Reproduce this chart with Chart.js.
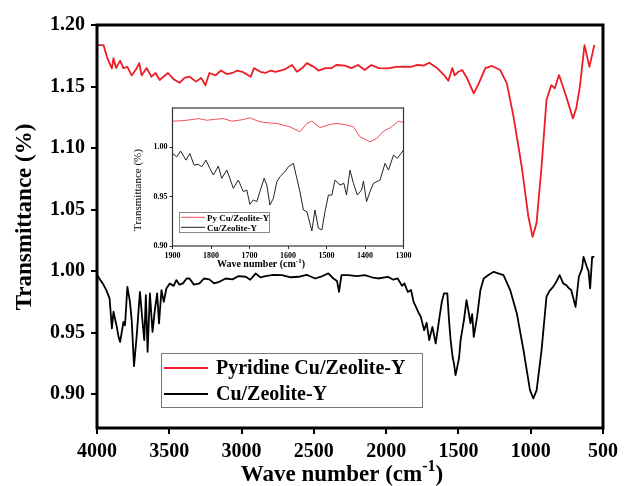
<!DOCTYPE html>
<html>
<head>
<meta charset="utf-8">
<script src="https://cdn.jsdelivr.net/npm/chart.js@4.4.0/dist/chart.umd.min.js"></script>
<style>
  body { margin: 0; background: #fff; }
  #wrap { position: relative; width: 624px; height: 486px; }
  #insetChart { position: absolute; left: 120px; top: 100px; }
</style>
</head>
<body>
<div id="wrap">
  <canvas id="mainChart" width="624" height="486"></canvas>
  <canvas id="insetChart" width="300" height="172"></canvas>
</div>
<script>
// ---- data ----
var seriesNames = ['Pyridine Cu/Zeolite-Y', 'Cu/Zeolite-Y'];
var insetNames = ['Py Cu/Zeolite-Y', 'Cu/Zeolite-Y'];

var xTicks = [4000, 3500, 3000, 2500, 2000, 1500, 1000, 500];
var yTicks = [0.90, 0.95, 1.00, 1.05, 1.10, 1.15, 1.20];
var insetXTicks = [1900, 1800, 1700, 1600, 1500, 1400, 1300];
var insetYTicks = [0.90, 0.95, 1.00];

// pyridine-adsorbed sample, full range
var pyWave = [4000, 3955, 3931, 3910, 3897, 3886, 3868, 3840, 3817, 3790, 3760, 3730, 3708, 3691, 3657, 3623, 3595, 3566, 3540, 3509, 3470, 3429, 3395, 3360, 3314, 3280, 3250, 3223, 3180, 3143, 3100, 3063, 3030, 2994, 2937, 2914, 2870, 2834, 2800, 2765, 2700, 2651, 2617, 2580, 2549, 2500, 2468, 2420, 2377, 2345, 2285, 2240, 2194, 2148, 2103, 2050, 1988, 1930, 1874, 1830, 1782, 1740, 1702, 1645, 1599, 1570, 1542, 1526, 1500, 1474, 1440, 1394, 1359, 1314, 1268, 1211, 1165, 1119, 1062, 1016, 987, 960, 925, 891, 857, 834, 804, 754, 708, 685, 660, 628, 594, 560];
var pyT = [1.1837, 1.1837, 1.174, 1.168, 1.1648, 1.173, 1.165, 1.171, 1.165, 1.166, 1.159, 1.164, 1.169, 1.159, 1.165, 1.158, 1.161, 1.1553, 1.158, 1.161, 1.156, 1.153, 1.157, 1.158, 1.154, 1.157, 1.151, 1.161, 1.159, 1.163, 1.160, 1.161, 1.163, 1.162, 1.158, 1.165, 1.162, 1.161, 1.163, 1.162, 1.164, 1.1675, 1.162, 1.165, 1.169, 1.166, 1.163, 1.165, 1.165, 1.1675, 1.167, 1.165, 1.1675, 1.1634, 1.1675, 1.165, 1.1648, 1.166, 1.1661, 1.166, 1.1675, 1.167, 1.1693, 1.1648, 1.1593, 1.1547, 1.165, 1.159, 1.162, 1.1634, 1.1567, 1.1444, 1.1526, 1.165, 1.1667, 1.1634, 1.1526, 1.1255, 1.0848, 1.0441, 1.0279, 1.0388, 1.0848, 1.139, 1.1512, 1.1485, 1.1593, 1.1417, 1.1241, 1.1323, 1.150, 1.1837, 1.166, 1.1837];

// parent Cu/Zeolite-Y, full range
var cuWave = [4000, 3977, 3960, 3936, 3913, 3897, 3886, 3863, 3851, 3840, 3817, 3806, 3790, 3772, 3760, 3744, 3726, 3703, 3684, 3673, 3662, 3650, 3634, 3616, 3600, 3584, 3571, 3554, 3538, 3520, 3497, 3470, 3451, 3430, 3406, 3380, 3360, 3330, 3291, 3260, 3223, 3190, 3154, 3110, 3063, 3020, 2971, 2940, 2903, 2870, 2834, 2780, 2720, 2660, 2606, 2550, 2491, 2440, 2400, 2365, 2340, 2326, 2309, 2263, 2200, 2148, 2100, 2057, 1988, 1950, 1920, 1890, 1874, 1850, 1828, 1810, 1794, 1775, 1760, 1737, 1720, 1702, 1690, 1680, 1657, 1634, 1615, 1600, 1577, 1565, 1554, 1540, 1531, 1520, 1508, 1495, 1485, 1462, 1444, 1428, 1417, 1405, 1394, 1371, 1348, 1325, 1290, 1256, 1220, 1188, 1142, 1096, 1050, 1005, 982, 959, 925, 891, 870, 845, 820, 800, 775, 754, 735, 720, 690, 667, 645, 635, 612, 600, 589, 575, 560];
var cuT = [0.997, 0.9927, 0.99, 0.9846, 0.9778, 0.9534, 0.967, 0.9547, 0.9466, 0.9425, 0.9588, 0.956, 0.9872, 0.975, 0.96, 0.9228, 0.9466, 0.9832, 0.9575, 0.9439, 0.9805, 0.9344, 0.9819, 0.9506, 0.9683, 0.9819, 0.9575, 0.9846, 0.975, 0.9859, 0.99, 0.988, 0.9927, 0.989, 0.99, 0.994, 0.994, 0.989, 0.99, 0.994, 0.9933, 0.99, 0.9913, 0.994, 0.9933, 0.996, 0.9954, 0.993, 0.998, 0.995, 0.996, 0.997, 0.9967, 0.995, 0.9954, 0.997, 0.994, 0.996, 0.9981, 0.994, 0.992, 0.9832, 0.9967, 0.9967, 0.996, 0.9967, 0.995, 0.994, 0.9954, 0.993, 0.994, 0.988, 0.99, 0.983, 0.9846, 0.975, 0.971, 0.966, 0.9628, 0.952, 0.958, 0.9439, 0.95, 0.9547, 0.9412, 0.9602, 0.975, 0.9819, 0.9819, 0.96, 0.9439, 0.93, 0.925, 0.9155, 0.9222, 0.93, 0.9439, 0.9602, 0.9764, 0.9656, 0.9575, 0.965, 0.9466, 0.9628, 0.9846, 0.994, 0.997, 0.9994, 0.998, 0.9967, 0.9846, 0.9656, 0.9358, 0.9033, 0.8965, 0.9033, 0.9358, 0.9791, 0.984, 0.9872, 0.992, 0.9967, 0.99, 0.9886, 0.986, 0.9846, 0.971, 0.9954, 1.002, 1.0116, 1.0035, 1.0, 0.986, 1.0116, 1.0116];

// inset: 1900-1300 cm-1
var insetPyWave = [1900, 1880, 1863, 1845, 1833, 1811, 1790, 1768, 1746, 1720, 1699, 1680, 1664, 1629, 1595, 1569, 1551, 1538, 1517, 1491, 1473, 1450, 1430, 1413, 1387, 1370, 1352, 1335, 1313, 1300];
var insetPyT = [1.0266, 1.027, 1.0276, 1.0285, 1.0293, 1.0276, 1.0285, 1.0293, 1.0266, 1.028, 1.030, 1.027, 1.0253, 1.0243, 1.0209, 1.0158, 1.0243, 1.0266, 1.0202, 1.0233, 1.0243, 1.023, 1.0209, 1.0107, 1.0057, 1.0091, 1.0165, 1.0198, 1.0266, 1.0253];
var insetCuWave = [1900, 1889, 1879, 1865, 1855, 1844, 1833, 1824, 1813, 1803, 1794, 1781, 1772, 1759, 1751, 1742, 1729, 1716, 1707, 1699, 1690, 1681, 1673, 1662, 1655, 1647, 1638, 1629, 1621, 1608, 1599, 1586, 1577, 1569, 1560, 1551, 1538, 1530, 1521, 1512, 1504, 1495, 1486, 1478, 1465, 1455, 1448, 1439, 1430, 1420, 1409, 1404, 1396, 1387, 1378, 1361, 1348, 1339, 1326, 1316, 1300];
var insetCuT = [0.9939, 0.9905, 0.9963, 0.9871, 0.9939, 0.9821, 0.9828, 0.9804, 0.9871, 0.9787, 0.972, 0.9811, 0.9686, 0.977, 0.9686, 0.9585, 0.9669, 0.9551, 0.9568, 0.9423, 0.9467, 0.945, 0.9551, 0.9686, 0.9618, 0.9416, 0.9484, 0.9652, 0.9703, 0.9753, 0.9804, 0.9838, 0.9686, 0.9551, 0.9365, 0.9348, 0.9153, 0.9365, 0.918, 0.9163, 0.9348, 0.9517, 0.9517, 0.9669, 0.9618, 0.9636, 0.9517, 0.977, 0.9636, 0.9517, 0.9568, 0.966, 0.945, 0.9551, 0.9636, 0.9669, 0.9838, 0.977, 0.9922, 0.9889, 0.9973];

var RED = '#ee1c25';
var BLACK = '#000000';
var SERIF = '"Liberation Serif", "Times New Roman", serif';

function pts(xs, ys) {
  return xs.map(function (x, i) { return { x: x, y: ys[i] }; });
}

// frame, legend and axis titles drawn on top of the chart
var decor = {
  id: 'decor',
  afterDraw: function (chart) {
    var o = chart.options.plugins.decor;
    var a = chart.chartArea;
    var ctx = chart.ctx;
    ctx.save();
    ctx.strokeStyle = o.frameColor;
    ctx.lineWidth = o.frameWidth;
    ctx.strokeRect(a.left, a.top, a.right - a.left, a.bottom - a.top);

    // legend box
    var L = o.legend;
    ctx.lineWidth = 1;
    ctx.strokeStyle = L.border;
    ctx.strokeRect(L.x + 0.5, L.y + 0.5, L.w, L.h);
    ctx.font = 'bold ' + L.size + 'px ' + SERIF;
    ctx.textBaseline = 'middle';
    ctx.textAlign = 'left';
    chart.data.datasets.forEach(function (ds, i) {
      var yy = L.rows[i];
      ctx.strokeStyle = ds.borderColor;
      ctx.lineWidth = ds.borderWidth;
      ctx.beginPath();
      ctx.moveTo(L.lineX0, yy);
      ctx.lineTo(L.lineX1, yy);
      ctx.stroke();
      ctx.fillStyle = '#000';
      ctx.fillText(ds.label, L.textX, yy + 1);
    });

    // x title with superscript
    var T = o.xTitle;
    ctx.fillStyle = '#000';
    ctx.textBaseline = 'alphabetic';
    ctx.font = 'bold ' + T.size + 'px ' + SERIF;
    var w1 = ctx.measureText(T.text).width;
    var w3 = ctx.measureText(')').width;
    ctx.font = 'bold ' + T.supSize + 'px ' + SERIF;
    var w2 = ctx.measureText(T.sup).width;
    var x0 = T.cx - (w1 + w2 + w3) / 2;
    ctx.textAlign = 'left';
    ctx.fillText(T.sup, x0 + w1, T.y - T.supRaise);
    ctx.font = 'bold ' + T.size + 'px ' + SERIF;
    ctx.fillText(T.text, x0, T.y);
    ctx.fillText(')', x0 + w1 + w2, T.y);

    // y title, rotated
    var Y = o.yTitle;
    ctx.translate(Y.cx, Y.cy);
    ctx.rotate(-Math.PI / 2);
    ctx.textAlign = 'center';
    ctx.textBaseline = 'middle';
    ctx.font = Y.weight + ' ' + Y.size + 'px ' + SERIF;
    ctx.fillText(Y.text, 0, 0);
    ctx.restore();
  }
};

function axes(cfg) {
  return {
    x: {
      type: 'linear',
      reverse: true,
      min: cfg.xMin,
      max: cfg.xMax,
      afterBuildTicks: function (s) { s.ticks = cfg.xTicks.map(function (v) { return { value: v }; }); },
      afterFit: function (s) { s.height = cfg.xHeight; },
      grid: { drawOnChartArea: false, drawTicks: true, tickLength: cfg.tickLen, color: cfg.axisColor, lineWidth: cfg.tickWidth },
      border: { display: false },
      ticks: {
        autoSkip: false, maxRotation: 0, padding: cfg.tickPad, color: '#000',
        font: { family: SERIF, size: cfg.tickSize, weight: 'bold' },
        callback: function (v) { return String(v); }
      }
    },
    y: {
      min: cfg.yMin,
      max: cfg.yMax,
      afterBuildTicks: function (s) { s.ticks = cfg.yTicks.map(function (v) { return { value: v }; }); },
      afterFit: function (s) { s.width = cfg.yWidth; },
      grid: { drawOnChartArea: false, drawTicks: true, tickLength: cfg.tickLen, color: cfg.axisColor, lineWidth: cfg.tickWidth },
      border: { display: false },
      ticks: {
        padding: cfg.tickPad, color: '#000',
        font: { family: SERIF, size: cfg.tickSize, weight: 'bold' },
        callback: function (v) { return v.toFixed(2); }
      }
    }
  };
}

new Chart(document.getElementById('mainChart'), {
  type: 'line',
  data: {
    datasets: [
      { label: seriesNames[0], data: pts(pyWave, pyT), borderColor: RED, borderWidth: 1.8 },
      { label: seriesNames[1], data: pts(cuWave, cuT), borderColor: BLACK, borderWidth: 1.8 }
    ]
  },
  options: {
    responsive: false,
    animation: false,
    parsing: false,
    elements: { point: { radius: 0 }, line: { tension: 0, borderJoinStyle: 'round' } },
    layout: { padding: { left: 0, right: 17, top: 25, bottom: 0 } },
    scales: axes({
      xMin: 500, xMax: 4000, xTicks: xTicks, xHeight: 58,
      yMin: 0.8725, yMax: 1.20, yTicks: yTicks, yWidth: 97,
      tickLen: 6, tickWidth: 2, tickPad: 6, tickSize: 20, axisColor: '#000'
    }),
    plugins: {
      legend: { display: false },
      tooltip: { enabled: false },
      decor: {
        frameColor: '#000', frameWidth: 3,
        legend: { x: 161, y: 353, w: 261, h: 54, border: '#777', size: 20, rows: [368, 394], lineX0: 164, lineX1: 208, textX: 216 },
        xTitle: { text: 'Wave number (cm', sup: '-1', size: 23, supSize: 16, supRaise: 10, cx: 342, y: 481 },
        yTitle: { text: 'Transmittance (%)', size: 23, weight: 'bold', cx: 25, cy: 217 }
      }
    }
  },
  plugins: [decor]
});

new Chart(document.getElementById('insetChart'), {
  type: 'line',
  data: {
    datasets: [
      { label: insetNames[0], data: pts(insetPyWave, insetPyT), borderColor: '#f0505a', borderWidth: 1 },
      { label: insetNames[1], data: pts(insetCuWave, insetCuT), borderColor: '#222', borderWidth: 1 }
    ]
  },
  options: {
    responsive: false,
    animation: false,
    parsing: false,
    elements: { point: { radius: 0 }, line: { tension: 0 } },
    layout: { padding: { left: 0, right: 16.5, top: 8, bottom: 0 } },
    scales: axes({
      xMin: 1300, xMax: 1900, xTicks: insetXTicks, xHeight: 26,
      yMin: 0.90, yMax: 1.04, yTicks: insetYTicks, yWidth: 52.5,
      tickLen: 3, tickWidth: 1, tickPad: 2, tickSize: 8, axisColor: '#333'
    }),
    plugins: {
      legend: { display: false },
      tooltip: { enabled: false },
      decor: {
        frameColor: '#333', frameWidth: 1.2,
        legend: { x: 59, y: 112, w: 90, h: 20, border: '#888', size: 9, rows: [117.3, 127.3], lineX0: 61, lineX1: 85, textX: 87 },
        xTitle: { text: 'Wave number (cm', sup: '-1', size: 10, supSize: 7, supRaise: 4, cx: 141, y: 167 },
        yTitle: { text: 'Transmittance (%)', size: 11, weight: 'normal', cx: 18, cy: 90 }
      }
    }
  },
  plugins: [decor]
});
</script>
</body>
</html>
